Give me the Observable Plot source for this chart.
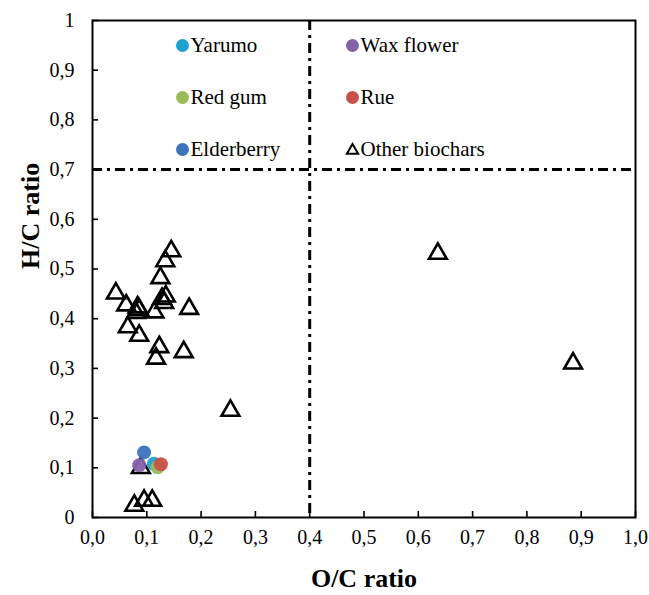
<!DOCTYPE html>
<html>
<head>
<meta charset="utf-8">
<script src="https://cdn.jsdelivr.net/npm/d3@7"></script>
<script src="https://cdn.jsdelivr.net/npm/@observablehq/plot@0.6"></script>
<style>
  html, body { margin: 0; padding: 0; background: #fff; }
</style>
</head>
<body>
<div id="chart"></div>
<script>
// ---- Data ----
const xTicks = [0, 0.1, 0.2, 0.3, 0.4, 0.5, 0.6, 0.7, 0.8, 0.9, 1];
const xTickLabels = ["0,0", "0,1", "0,2", "0,3", "0,4", "0,5", "0,6", "0,7", "0,8", "0,9", "1,0"];
const yTicks = [0, 0.1, 0.2, 0.3, 0.4, 0.5, 0.6, 0.7, 0.8, 0.9, 1];
const yTickLabels = ["0", "0,1", "0,2", "0,3", "0,4", "0,5", "0,6", "0,7", "0,8", "0,9", "1"];

// Other biochars (triangles)
const otherOC = [0.636, 0.885, 0.254,
  0.145, 0.134, 0.125, 0.043, 0.062, 0.083, 0.080, 0.086, 0.114, 0.128, 0.135, 0.132,
  0.178, 0.065, 0.086, 0.123, 0.168, 0.117,
  0.089, 0.077, 0.095, 0.110];
const otherHC = [0.531, 0.310, 0.215,
  0.536, 0.516, 0.482, 0.451, 0.427, 0.423, 0.412, 0.418, 0.413, 0.440, 0.445, 0.432,
  0.420, 0.383, 0.366, 0.343, 0.333, 0.320,
  0.100, 0.024, 0.034, 0.034];

// Studied biochars (circles)
const names = ["Elderberry", "Yarumo", "Red gum", "Wax flower", "Rue"];
const sampleOC = [0.095, 0.113, 0.120, 0.086, 0.126];
const sampleHC = [0.131, 0.108, 0.101, 0.105, 0.107];
const colors = ["#3d72bd", "#1c9fd1", "#9bbb59", "#8462a6", "#c9504a"];

// Legend layout (names in reading order)
const legendNames = ["Yarumo", "Wax flower", "Red gum", "Rue", "Elderberry", "Other biochars"];

const oVal = 0.4, hVal = 0.7;

// ---- Build ----
const FONT = "Liberation Serif";
const others = otherOC.map((x, i) => ({oc: x, hc: otherHC[i]}));
const samples = names.map((n, i) => ({name: n, oc: sampleOC[i], hc: sampleHC[i], color: colors[i]}));
const colorOf = Object.fromEntries(names.map((n, i) => [n, colors[i]]));

const legendMarks = legendNames.flatMap((n, i) => {
  const col = i % 2, row = Math.floor(i / 2);
  const dx = 90 + col * 170, dy = 25 + row * 52;
  const marker = n === "Other biochars"
    ? Plot.dot([n], {frameAnchor: "top-left", dx, dy: dy + 1, symbol: "triangle", r: 4.2, stroke: "black", strokeWidth: 2, fill: "none"})
    : Plot.dot([n], {frameAnchor: "top-left", dx, dy, r: 6.5, fill: colorOf[n], stroke: "none"});
  const label = Plot.text([n], {frameAnchor: "top-left", dx: dx + 8, dy, textAnchor: "start", lineAnchor: "middle", fontSize: 21, fontFamily: FONT});
  return [marker, label];
});

const fmtX = d => xTickLabels[xTicks.findIndex(t => Math.abs(t - d) < 1e-9)];
const fmtY = d => yTickLabels[yTicks.findIndex(t => Math.abs(t - d) < 1e-9)];

const chart = Plot.plot({
  width: 649,
  height: 595,
  marginLeft: 92,
  marginRight: 14,
  marginTop: 20,
  marginBottom: 78,
  x: {domain: [0, 1]},
  y: {domain: [0, 1]},
  marks: [
    Plot.ruleY([hVal], {stroke: "black", strokeWidth: 3, strokeDasharray: "10,5,3,5"}),
    Plot.ruleX([oVal], {stroke: "black", strokeWidth: 3, strokeDasharray: "10,5,3,5"}),
    Plot.dot(others, {x: "oc", y: "hc", symbol: "triangle", r: 6.6, stroke: "black", strokeWidth: 2.6, fill: "none"}),
    Plot.dot(samples, {x: "oc", y: "hc", r: 7, fill: "color", stroke: "none", fillOpacity: 0.95}),
    Plot.frame({stroke: "black", strokeWidth: 2}),
    Plot.axisX(xTicks, {anchor: "bottom", label: null, tickSize: -6, tickPadding: 18, strokeWidth: 1.6, tickFormat: fmtX, fontSize: 20, fontFamily: FONT}),
    Plot.axisY(yTicks, {anchor: "left", label: null, tickSize: -6, tickPadding: 24, strokeWidth: 1.6, tickFormat: fmtY, fontSize: 20, fontFamily: FONT}),
    Plot.text(["O/C ratio"], {frameAnchor: "bottom", dy: 61, fontSize: 26, fontWeight: "bold", fontFamily: FONT, lineAnchor: "middle"}),
    Plot.text(["H/C ratio"], {frameAnchor: "left", dx: -62, fontSize: 26, fontWeight: "bold", fontFamily: FONT, rotate: -90, lineAnchor: "middle"}),
    ...legendMarks
  ]
});
// Force the serif face on every text node (inline style and attribute)
chart.setAttribute("font-family", FONT);
chart.querySelectorAll("g, text, tspan").forEach(el => {
  if (el.tagName.toLowerCase() !== "g" || el.hasAttribute("font-family")) {
    el.setAttribute("font-family", FONT);
    el.style.fontFamily = FONT;
  }
});
const styleEl = document.createElementNS("http://www.w3.org/2000/svg", "style");
styleEl.textContent = "text, tspan { font-family: 'Liberation Serif', serif !important; }";
chart.insertBefore(styleEl, chart.firstChild);
document.getElementById("chart").appendChild(chart);
</script>
</body>
</html>
